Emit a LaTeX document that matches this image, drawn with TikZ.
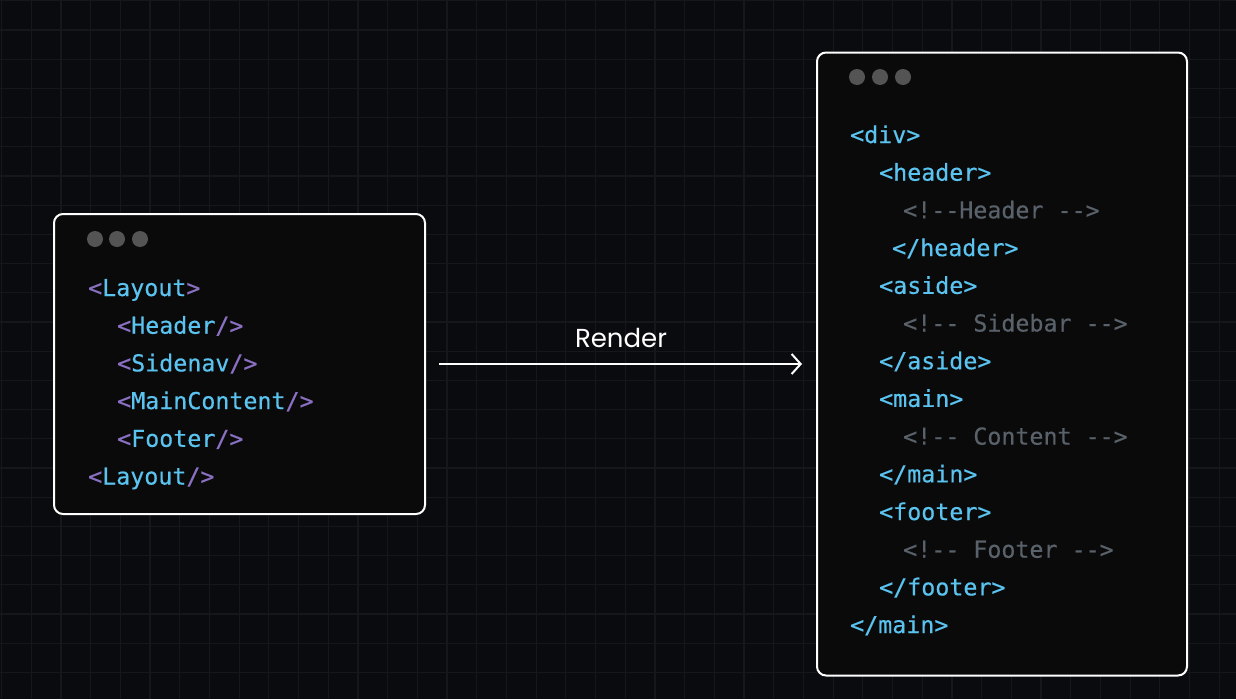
\documentclass[tikz,border=0pt]{standalone}
\usepackage{fontspec}
\setmonofont{DejaVu Sans Mono}[BoldFont=DejaVu Sans Mono, BoldFeatures={FakeBold=0.4}]
\newfontfamily\handfont{Poppins}
\definecolor{bgdark}{HTML}{0A0B0E}
\definecolor{gridgray}{HTML}{15171B}
\definecolor{panelblack}{HTML}{0A0A0A}
\definecolor{dotgray}{HTML}{545454}
\definecolor{tagblue}{HTML}{5AC3F0}
\definecolor{tagpurple}{HTML}{8A70C2}
\definecolor{commentgray}{HTML}{59616A}
\usetikzlibrary{arrows.meta}
\newcommand{\pt}[1]{\textcolor{tagpurple}{#1}}

\begin{document}
\begin{tikzpicture}[x=1pt, y=-1pt,
  codebox/.style={draw=white, line width=2pt, fill=panelblack, rounded corners=9pt, inner sep=0pt},
  codeline/.style={anchor=base west, inner sep=0pt, font=\ttfamily\bfseries\fontsize{23.3}{28}\selectfont, text=tagblue},
  comment/.style={codeline, text=commentgray},
  winddot/.style={fill=dotgray}]
  % Background and grid
  \fill[bgdark] (0,0) rectangle (1236,699);
  \useasboundingbox (0,0) rectangle (1236,699);
  \foreach \gx in {0,...,41}
    \draw[gridgray, line width=1.2pt] (1.5+29.7*\gx,0) -- (1.5+29.7*\gx,699);
  \foreach \gy in {0,...,23}
    \draw[gridgray, line width=1.2pt] (0,0.8+29.2*\gy) -- (1236,0.8+29.2*\gy);

  % Component tree
  \node[codebox, minimum width=371pt, minimum height=300pt] (layoutbox) at (239.5,364) {};
  \fill[winddot] (95,239) circle (8);
  \fill[winddot] (117,239) circle (8);
  \fill[winddot] (140,239) circle (8);
  \node[codeline] (layoutopen) at (88,296) {\pt{<}Layout\pt{>}};
  \node[codeline] (headertag) at (117,333.7) {\pt{<}Header\pt{/>}};
  \node[codeline] (sidenavtag) at (117,371.4) {\pt{<}Sidenav\pt{/>}};
  \node[codeline] (maintag) at (117,409.1) {\pt{<}MainContent\pt{/>}};
  \node[codeline] (footertag) at (117,446.8) {\pt{<}Footer\pt{/>}};
  \node[codeline] (layoutclose) at (88,484.5) {\pt{<}Layout\pt{/>}};

  % Rendered markup
  \node[codebox, minimum width=370pt, minimum height=623pt] (domtree) at (1002,364) {};
  \fill[winddot] (857,77) circle (8);
  \fill[winddot] (880,77) circle (8);
  \fill[winddot] (903,77) circle (8);
  \node[codeline] (divopen) at (850,143) {<div>};
  \node[codeline] (headeropen) at (879,180.7) {<header>};
  \node[comment] (headernote) at (903,218.4) {<!--Header -->};
  \node[codeline] (headerclose) at (892,256.1) {</header>};
  \node[codeline] (asideopen) at (879,293.8) {<aside>};
  \node[comment] (asidenote) at (903,331.5) {<!-- Sidebar -->};
  \node[codeline] (asideclose) at (879,369.2) {</aside>};
  \node[codeline] (mainopen) at (879,406.9) {<main>};
  \node[comment] (mainnote) at (903,444.6) {<!-- Content -->};
  \node[codeline] (mainclose) at (879,482.3) {</main>};
  \node[codeline] (footeropen) at (879,520) {<footer>};
  \node[comment] (footernote) at (903,557.7) {<!-- Footer -->};
  \node[codeline] (footerclose) at (879,595.4) {</footer>};
  \node[codeline] (divclose) at (850,633.1) {</main>};

  % Render arrow
  \draw[white, line width=2pt, -{Straight Barb[length=9pt, width=20pt, line width=2pt]},
    shorten <=13pt, shorten >=14pt] (layoutbox.east) -- (domtree.west)
    node[midway, yshift=26pt, text=white, font=\handfont\fontsize{26}{30}\selectfont] (renderlabel) {Render};
\end{tikzpicture}
\end{document}
